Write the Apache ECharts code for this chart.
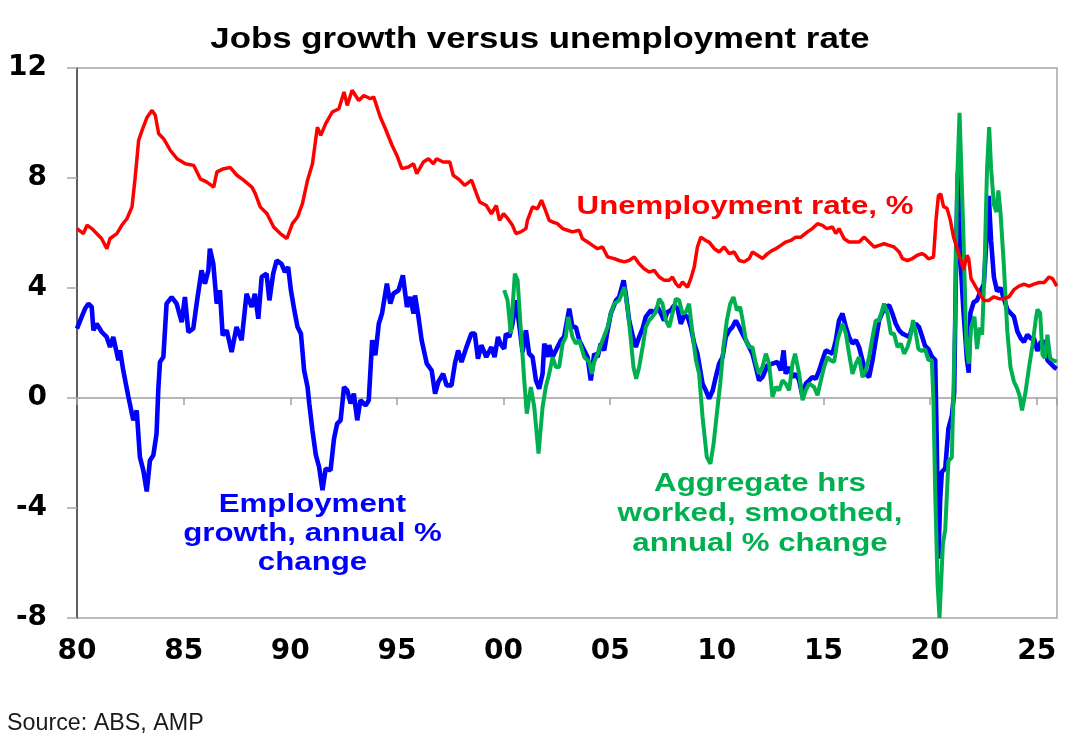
<!DOCTYPE html>
<html><head><meta charset="utf-8">
<script src="https://cdn.jsdelivr.net/npm/echarts@6.0.0/dist/echarts.min.js"></script>
<style>html,body{margin:0;padding:0;background:#fff}#chart{width:1091px;height:750px}</style>
</head><body><div id="chart"></div>
<script>
// ---- DATA (decimal year, value) ----
const unemploymentRate = [
[1980.00,6.16],[1980.30,5.98],[1980.47,6.28],[1980.70,6.16],[1980.92,5.98],[1981.15,5.80],[1981.40,5.43],[1981.55,5.80],[1981.87,5.98],
[1982.10,6.28],[1982.34,6.52],[1982.58,6.95],[1982.73,8.04],[1982.89,9.37],[1983.05,9.73],[1983.28,10.20],[1983.52,10.46],[1983.67,10.28],
[1983.83,9.61],[1984.06,9.43],[1984.38,9.00],[1984.69,8.70],[1985.08,8.52],[1985.47,8.46],[1985.78,7.97],[1986.09,7.85],[1986.41,7.67],
[1986.56,8.22],[1986.88,8.34],[1987.19,8.38],[1987.50,8.10],[1987.81,7.92],[1988.20,7.67],[1988.36,7.43],[1988.59,6.95],[1988.91,6.70],
[1989.22,6.22],[1989.53,5.98],[1989.84,5.80],[1990.10,6.34],[1990.34,6.58],[1990.57,7.07],[1990.81,7.92],[1991.04,8.52],[1991.27,9.85],
[1991.43,9.55],[1991.66,9.98],[1991.97,10.40],[1992.28,10.52],[1992.52,11.13],[1992.67,10.64],[1992.90,11.19],[1993.21,10.82],[1993.45,11.00],
[1993.76,10.88],[1993.91,10.95],[1994.22,10.22],[1994.46,9.79],[1994.77,9.19],[1995.00,8.82],[1995.23,8.34],[1995.54,8.40],[1995.78,8.52],
[1995.93,8.16],[1996.24,8.58],[1996.48,8.70],[1996.71,8.52],[1996.86,8.70],[1997.17,8.58],[1997.48,8.58],[1997.64,8.10],[1997.95,7.92],
[1998.18,7.73],[1998.50,7.92],[1998.73,7.43],[1998.88,7.13],[1999.19,7.00],[1999.43,6.70],[1999.66,7.00],[1999.81,6.46],[2000.00,6.70],
[2000.20,6.52],[2000.42,6.28],[2000.58,5.98],[2000.81,6.04],[2001.05,6.16],[2001.12,6.46],[2001.36,6.95],[2001.59,6.88],[2001.78,7.19],
[2001.94,6.88],[2002.14,6.46],[2002.30,6.40],[2002.53,6.34],[2002.77,6.16],[2003.00,6.10],[2003.23,6.04],[2003.55,6.10],[2003.70,5.79],
[2003.94,5.67],[2004.17,5.55],[2004.41,5.43],[2004.64,5.49],[2004.88,5.13],[2005.19,5.07],[2005.42,5.00],[2005.66,4.95],[2005.89,5.00],
[2006.13,5.13],[2006.36,4.88],[2006.59,4.70],[2006.83,4.58],[2007.06,4.64],[2007.30,4.40],[2007.53,4.28],[2007.77,4.28],[2007.92,4.40],
[2008.08,4.16],[2008.23,4.03],[2008.39,4.22],[2008.63,4.03],[2008.78,4.34],[2008.94,4.76],[2009.09,5.49],[2009.25,5.85],[2009.48,5.73],
[2009.65,5.66],[2009.88,5.43],[2010.11,5.31],[2010.34,5.49],[2010.58,5.25],[2010.81,5.31],[2011.05,5.00],[2011.28,4.95],[2011.52,5.07],
[2011.67,5.31],[2011.91,5.19],[2012.14,5.07],[2012.38,5.25],[2012.61,5.37],[2012.77,5.43],[2013.00,5.55],[2013.23,5.67],[2013.47,5.73],
[2013.70,5.85],[2013.94,5.85],[2014.25,6.04],[2014.48,6.16],[2014.72,6.34],[2014.95,6.28],[2015.16,6.16],[2015.42,6.22],[2015.58,5.98],
[2015.73,6.16],[2015.97,5.79],[2016.20,5.67],[2016.44,5.67],[2016.67,5.67],[2016.91,5.85],[2017.14,5.67],[2017.38,5.49],[2017.61,5.55],
[2017.84,5.61],[2018.08,5.55],[2018.31,5.49],[2018.55,5.31],[2018.70,5.07],[2018.94,5.00],[2019.17,5.07],[2019.40,5.19],[2019.62,5.25],
[2019.76,5.19],[2019.92,5.06],[2020.16,5.12],[2020.28,6.50],[2020.39,7.36],[2020.50,7.42],[2020.63,6.96],[2020.79,6.90],[2020.94,6.50],
[2021.10,5.85],[2021.26,5.45],[2021.42,5.06],[2021.57,4.66],[2021.73,5.19],[2021.81,5.06],[2021.92,4.34],[2022.12,4.07],[2022.36,3.75],
[2022.52,3.55],[2022.75,3.55],[2022.99,3.68],[2023.22,3.61],[2023.46,3.61],[2023.70,3.68],[2023.93,3.94],[2024.17,4.07],[2024.40,4.14],
[2024.64,4.07],[2024.87,4.14],[2025.11,4.20],[2025.35,4.20],[2025.58,4.40],[2025.74,4.34],[2025.94,4.07]
];
const employmentGrowth = [
[1980.00,2.52],[1980.22,2.95],[1980.38,3.25],[1980.53,3.43],[1980.69,3.31],[1980.77,2.46],[1980.92,2.70],[1981.16,2.40],[1981.39,2.22],
[1981.55,1.85],[1981.70,2.22],[1981.94,1.37],[1982.02,1.73],[1982.17,1.00],[1982.41,0.04],[1982.64,-0.81],[1982.80,-0.45],[1982.95,-2.15],
[1983.11,-2.63],[1983.27,-3.40],[1983.42,-2.27],[1983.58,-2.08],[1983.73,-1.30],[1983.81,0.28],[1983.89,1.31],[1984.05,1.49],[1984.20,3.43],
[1984.44,3.67],[1984.67,3.43],[1984.91,2.76],[1985.06,3.67],[1985.22,2.40],[1985.45,2.52],[1985.61,3.43],[1985.84,4.64],[1986.00,4.16],
[1986.16,4.64],[1986.23,5.43],[1986.39,4.88],[1986.55,3.43],[1986.70,3.92],[1986.83,2.28],[1987.02,2.46],[1987.25,1.67],[1987.48,2.58],
[1987.72,2.10],[1987.95,3.79],[1988.19,3.31],[1988.34,3.79],[1988.50,2.88],[1988.66,4.40],[1988.89,4.52],[1989.02,3.55],[1989.20,4.52],
[1989.36,5.00],[1989.59,4.88],[1989.75,4.58],[1989.90,4.76],[1990.03,3.92],[1990.19,3.19],[1990.34,2.58],[1990.50,2.34],[1990.65,1.00],
[1990.81,0.40],[1990.89,-0.20],[1991.04,-1.18],[1991.20,-2.08],[1991.35,-2.50],[1991.51,-3.35],[1991.66,-2.57],[1991.89,-2.63],[1992.05,-1.48],
[1992.20,-0.93],[1992.36,-0.81],[1992.52,0.40],[1992.67,0.28],[1992.83,-0.20],[1992.98,0.16],[1993.14,-0.81],[1993.29,-0.08],[1993.53,-0.27],
[1993.68,-0.08],[1993.84,2.10],[1993.99,1.55],[1994.15,2.70],[1994.30,3.07],[1994.53,4.16],[1994.69,3.43],[1994.84,3.80],[1995.08,3.92],
[1995.28,4.46],[1995.47,3.31],[1995.62,3.67],[1995.78,3.07],[1995.85,3.73],[1996.01,2.95],[1996.16,2.10],[1996.40,1.25],[1996.63,1.00],
[1996.79,0.16],[1996.94,0.58],[1997.17,0.88],[1997.33,0.46],[1997.56,0.46],[1997.72,1.25],[1997.87,1.73],[1998.03,1.31],[1998.26,1.85],
[1998.49,2.34],[1998.65,2.34],[1998.80,1.43],[1998.96,1.92],[1999.19,1.49],[1999.43,1.85],[1999.58,1.49],[1999.74,2.22],[1999.85,1.98],
[2000.03,1.79],[2000.11,2.34],[2000.27,2.22],[2000.42,2.70],[2000.58,3.55],[2000.73,2.70],[2000.89,1.67],[2001.05,2.46],[2001.20,1.61],
[2001.36,1.49],[2001.52,0.64],[2001.67,0.34],[2001.83,0.88],[2001.91,1.98],[2002.06,1.49],[2002.14,1.92],[2002.30,1.49],[2002.45,1.73],
[2002.69,2.10],[2002.84,2.22],[2003.08,3.25],[2003.23,2.58],[2003.39,2.58],[2003.55,2.10],[2003.78,1.73],[2003.94,1.49],[2004.09,0.64],
[2004.25,1.61],[2004.41,1.49],[2004.56,1.98],[2004.72,1.73],[2004.88,2.46],[2005.03,3.07],[2005.27,3.55],[2005.42,3.67],[2005.63,4.28],
[2005.73,3.79],[2005.89,2.82],[2006.05,2.28],[2006.20,1.85],[2006.36,2.22],[2006.52,2.52],[2006.67,2.95],[2006.91,3.19],[2007.06,3.07],
[2007.22,3.31],[2007.38,3.07],[2007.53,2.82],[2007.69,3.13],[2007.84,3.19],[2008.00,3.37],[2008.16,3.25],[2008.31,2.70],[2008.47,3.00],
[2008.63,2.95],[2008.78,2.58],[2008.94,1.98],[2009.09,1.61],[2009.33,0.52],[2009.48,0.28],[2009.64,-0.02],[2009.81,0.28],[2009.95,0.76],
[2010.11,1.25],[2010.27,1.49],[2010.42,2.22],[2010.58,2.46],[2010.73,2.58],[2010.89,2.82],[2011.05,2.58],[2011.20,2.34],[2011.36,2.10],
[2011.52,1.85],[2011.67,1.61],[2011.83,1.13],[2011.98,0.64],[2012.14,0.76],[2012.38,1.19],[2012.61,1.25],[2012.84,1.31],[2013.00,1.00],
[2013.13,1.73],[2013.23,0.88],[2013.39,1.13],[2013.55,0.76],[2013.70,0.88],[2013.86,0.64],[2014.02,0.04],[2014.17,0.52],[2014.33,0.64],
[2014.48,0.76],[2014.64,0.70],[2014.80,1.00],[2014.95,1.37],[2015.11,1.73],[2015.27,1.67],[2015.42,1.61],[2015.58,2.10],[2015.73,2.82],
[2015.89,3.07],[2016.05,2.58],[2016.20,2.22],[2016.36,1.98],[2016.52,2.10],[2016.67,1.85],[2016.83,1.37],[2016.98,0.88],[2017.14,0.76],
[2017.30,1.37],[2017.45,2.10],[2017.61,2.82],[2017.77,3.13],[2017.92,3.31],[2018.08,3.37],[2018.23,3.07],[2018.39,2.70],[2018.55,2.46],
[2018.70,2.34],[2018.86,2.28],[2019.02,2.22],[2019.17,2.58],[2019.33,2.70],[2019.48,2.58],[2019.60,2.30],[2019.76,1.90],[2019.92,1.78],
[2020.08,1.51],[2020.24,1.38],[2020.31,-1.50],[2020.39,-5.84],[2020.47,-3.74],[2020.55,-2.69],[2020.71,-2.56],[2020.86,-1.11],[2021.02,-0.65],
[2021.13,0.20],[2021.23,5.71],[2021.30,8.20],[2021.42,5.06],[2021.57,3.09],[2021.73,1.38],[2021.81,0.92],[2021.89,3.09],[2022.04,3.48],
[2022.20,3.55],[2022.36,3.88],[2022.52,4.14],[2022.64,5.71],[2022.75,7.35],[2022.86,5.71],[2022.99,4.40],[2023.14,3.88],[2023.30,4.01],
[2023.46,3.61],[2023.62,3.22],[2023.77,3.09],[2023.93,2.96],[2024.09,2.43],[2024.25,2.17],[2024.40,2.04],[2024.56,2.30],[2024.72,2.17],
[2024.87,2.17],[2025.03,1.71],[2025.19,2.04],[2025.35,2.04],[2025.50,1.38],[2025.66,1.25],[2025.82,1.12],[2025.94,1.06]
];
const aggregateHours = [
[2000.03,3.92],[2000.19,3.55],[2000.34,2.34],[2000.42,2.34],[2000.53,4.52],[2000.66,4.28],[2000.78,2.82],[2000.97,0.64],[2001.09,-0.57],
[2001.28,0.40],[2001.44,-0.33],[2001.64,-2.02],[2001.83,-0.33],[2001.98,0.40],[2002.14,0.88],[2002.30,1.49],[2002.45,1.13],[2002.61,1.13],
[2002.77,1.98],[2002.92,2.22],[2003.03,2.95],[2003.23,2.22],[2003.39,1.98],[2003.55,2.10],[2003.78,1.49],[2004.02,1.31],[2004.14,0.88],
[2004.25,1.31],[2004.41,1.61],[2004.64,2.10],[2004.88,2.58],[2005.03,3.07],[2005.19,3.43],[2005.42,3.55],[2005.66,4.03],[2005.81,3.31],
[2005.94,2.34],[2006.09,1.13],[2006.22,0.70],[2006.36,1.13],[2006.52,1.85],[2006.67,2.58],[2006.83,2.82],[2006.98,2.95],[2007.14,3.13],
[2007.30,3.61],[2007.45,3.43],[2007.61,2.82],[2007.77,2.58],[2007.92,3.07],[2008.08,3.61],[2008.23,3.55],[2008.39,3.07],[2008.55,3.13],
[2008.70,3.43],[2008.86,2.34],[2009.02,1.37],[2009.17,0.88],[2009.33,-0.69],[2009.53,-2.15],[2009.70,-2.39],[2009.85,-1.66],[2010.00,-0.57],
[2010.16,0.52],[2010.31,1.85],[2010.47,2.82],[2010.63,3.43],[2010.78,3.67],[2010.94,3.19],[2011.09,3.31],[2011.20,2.88],[2011.36,2.10],
[2011.52,1.85],[2011.67,1.85],[2011.83,1.25],[2011.98,0.88],[2012.14,1.13],[2012.30,1.61],[2012.45,1.25],[2012.61,0.04],[2012.77,0.40],
[2012.92,0.28],[2013.08,0.64],[2013.23,0.52],[2013.39,0.28],[2013.55,1.25],[2013.67,1.61],[2013.86,0.88],[2014.02,-0.08],[2014.17,0.28],
[2014.33,0.52],[2014.56,0.40],[2014.72,0.10],[2014.88,0.64],[2015.03,1.13],[2015.19,1.49],[2015.34,1.37],[2015.50,1.31],[2015.66,2.10],
[2015.89,2.70],[2016.05,2.34],[2016.20,1.61],[2016.36,0.88],[2016.52,1.25],[2016.67,1.49],[2016.83,0.76],[2016.98,1.00],[2017.14,1.49],
[2017.30,2.22],[2017.45,2.82],[2017.61,2.82],[2017.84,3.43],[2018.00,3.07],[2018.16,2.34],[2018.31,2.34],[2018.47,1.85],[2018.63,1.98],
[2018.78,1.61],[2018.94,1.85],[2019.06,2.17],[2019.20,2.83],[2019.34,2.30],[2019.45,1.78],[2019.60,1.71],[2019.76,1.78],[2019.92,1.38],
[2020.08,1.38],[2020.16,-0.19],[2020.24,-3.47],[2020.35,-6.75],[2020.44,-8.00],[2020.50,-7.94],[2020.60,-5.31],[2020.71,-4.78],[2020.86,-2.29],
[2021.02,-2.16],[2021.10,-2.10],[2021.18,3.09],[2021.26,7.68],[2021.38,10.37],[2021.46,10.37],[2021.57,5.71],[2021.70,1.91],[2021.81,1.25],
[2021.92,2.56],[2022.08,2.96],[2022.20,1.78],[2022.33,2.56],[2022.44,2.30],[2022.55,4.67],[2022.67,8.34],[2022.77,9.85],[2022.86,8.34],
[2022.99,7.03],[2023.11,6.76],[2023.20,7.55],[2023.30,6.76],[2023.46,4.80],[2023.62,2.43],[2023.77,1.12],[2023.93,0.60],[2024.09,0.33],
[2024.20,0.07],[2024.31,-0.45],[2024.47,0.20],[2024.64,1.12],[2024.80,1.91],[2024.95,2.83],[2025.03,3.22],[2025.16,3.09],[2025.27,1.58],
[2025.38,1.45],[2025.50,2.30],[2025.63,1.45],[2025.74,1.38],[2025.94,1.32]
];
const xTickYears = [1980,1985,1990,1995,2000,2005,2010,2015,2020,2025];
const yRange = {min:-8, max:12, step:4};
const xRange = {min:1980, max:2025.95};
const titleText = 'Jobs growth versus unemployment rate';
const unempLabel = ['Unemployment rate, %'];
const empLabel = ['Employment', 'growth, annual %', 'change'];
const hoursLabel = ['Aggregate hrs', 'worked, smoothed,', 'annual % change'];
const sourceText = 'Source: ABS, AMP';

// ---- STYLE ----
const RED = '#FF0000', BLUE = '#0000FF', GREEN = '#00B050';
const ARIAL = '"Liberation Sans", Arial, sans-serif';
const AXISFONT = '"DejaVu Sans", "Liberation Sans", sans-serif';

function textEl(text, x, y, color, size, weight, scaleX, align) {
  return {
    type: 'text', x: x, y: y, scaleX: scaleX, scaleY: 1, z: 100,
    style: {
      text: text, fill: color,
      font: weight + ' ' + size + 'px ' + ARIAL,
      textAlign: align, align: align,
      textVerticalAlign: 'middle', verticalAlign: 'middle'
    }
  };
}
const graphics = [];
graphics.push(textEl(titleText, 540, 40, '#000', 29, 'bold', 1.2, 'center'));
unempLabel.forEach((t, i) => graphics.push(textEl(t, 745, 207 + i * 29, RED, 25, 'bold', 1.25, 'center')));
empLabel.forEach((t, i) => graphics.push(textEl(t, 312.5, 505.5 + i * 29, BLUE, 25, 'bold', 1.25, 'center')));
hoursLabel.forEach((t, i) => graphics.push(textEl(t, 760, 484 + i * 30, GREEN, 25, 'bold', 1.25, 'center')));
graphics.push(textEl(sourceText, 7, 723.4, '#1a1a1a', 24, 'normal', 0.97, 'left'));

const chart = echarts.init(document.getElementById('chart'), null, {renderer: 'canvas'});
const fmtYear = v => {
  if (xTickYears.indexOf(Math.round(v)) < 0 || Math.abs(v - Math.round(v)) > 1e-6) return '';
  return String(Math.round(v) % 100).padStart(2, '0');
};
chart.setOption({
  animation: false,
  backgroundColor: '#fff',
  grid: {left: 77, right: 34, top: 68, bottom: 132, show: true, borderColor: '#a6a6a6', borderWidth: 1.5, backgroundColor: 'transparent'},
  xAxis: [
    {
      type: 'value', min: xRange.min, max: xRange.max, interval: 5, position: 'bottom',
      axisLine: {show: false, onZero: false}, axisTick: {show: false}, splitLine: {show: false},
      axisLabel: {formatter: fmtYear, margin: 20, color: '#000', fontSize: 28, fontWeight: 'bold', fontFamily: AXISFONT, showMaxLabel: false}
    },
    {
      type: 'value', min: xRange.min, max: xRange.max, interval: 5, position: 'bottom',
      axisLine: {show: true, onZero: true, lineStyle: {color: '#a0a0a0', width: 1.5}},
      axisTick: {show: true, length: 7, lineStyle: {color: '#a0a0a0', width: 1.5}},
      axisLabel: {show: false}, splitLine: {show: false}
    }
  ],
  yAxis: {
    type: 'value', min: yRange.min, max: yRange.max, interval: yRange.step,
    axisLine: {show: true, lineStyle: {color: '#404040', width: 1.5}},
    axisTick: {show: true, length: 10, lineStyle: {color: '#a6a6a6', width: 1.5}},
    splitLine: {show: false},
    axisLabel: {margin: 30, color: '#000', fontSize: 28, fontWeight: 'bold', fontFamily: AXISFONT}
  },
  series: [
    {name: 'Employment growth', type: 'line', data: employmentGrowth, showSymbol: false, symbol: 'none',
     lineStyle: {color: BLUE, width: 4.6}, itemStyle: {color: BLUE}, clip: true, z: 2},
    {name: 'Aggregate hours', type: 'line', data: aggregateHours, showSymbol: false, symbol: 'none',
     lineStyle: {color: GREEN, width: 4}, itemStyle: {color: GREEN}, clip: true, z: 3},
    {name: 'Unemployment rate', type: 'line', data: unemploymentRate, showSymbol: false, symbol: 'none',
     lineStyle: {color: RED, width: 3.5}, itemStyle: {color: RED}, clip: true, z: 4}
  ],
  graphic: graphics
});
</script></body></html>
